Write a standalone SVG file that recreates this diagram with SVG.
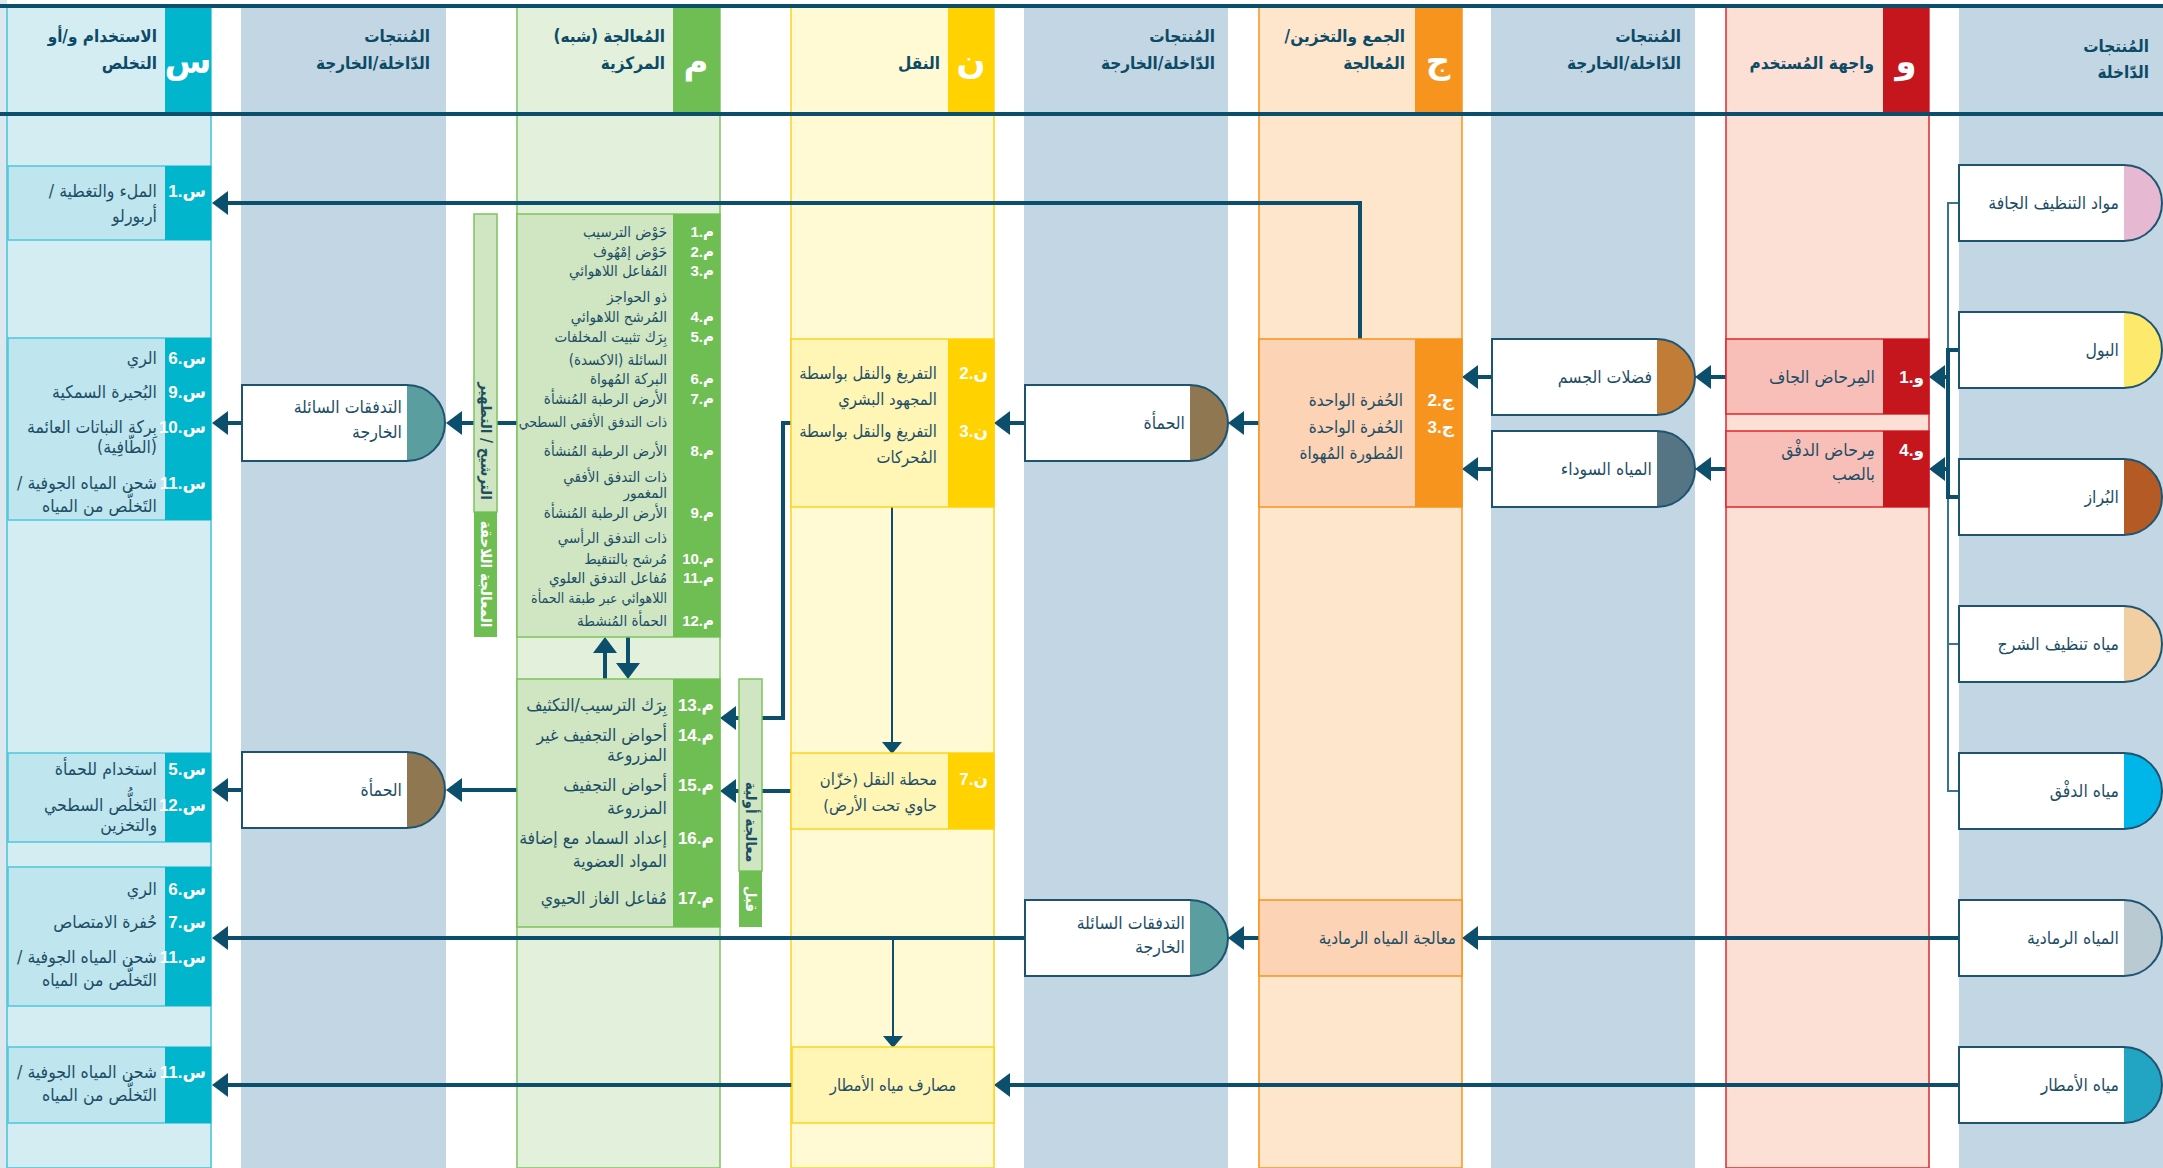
<svg xmlns="http://www.w3.org/2000/svg" xmlns:xlink="http://www.w3.org/1999/xlink" width="2163" height="1168" viewBox="0 0 2163 1168">
<defs>
<style>
.t{font-family:"DejaVu Sans Condensed","DejaVu Sans",sans-serif;font-size:17.5px;fill:#1d4e66;direction:rtl;text-anchor:start}
.ts{font-size:15px}
.tx{font-size:14px}
.tm{font-size:17.5px}
.tn{font-size:16.5px}
.tj{font-size:17px}
.lb{font-family:"Liberation Sans","DejaVu Sans",sans-serif;font-weight:bold;font-size:17px;fill:#ffffff;direction:rtl;text-anchor:start}
.lbs{font-size:15px}
.h{font-family:"DejaVu Sans Condensed","DejaVu Sans",sans-serif;font-weight:bold;font-size:17px;fill:#0d4a66;direction:rtl;text-anchor:start}
.hl{font-family:"DejaVu Sans","Liberation Sans",sans-serif;font-weight:bold;font-size:34px;fill:#ffffff;text-anchor:middle}
.v{font-family:"DejaVu Sans Condensed","DejaVu Sans",sans-serif;font-weight:bold;font-size:15px;text-anchor:middle;dominant-baseline:central}
.pcol{fill:#c2d7e3}
.pbw{fill:#ffffff;stroke:none}
.pbo{fill:none;stroke:#1e5470;stroke-width:2}
.sbox{fill:#bfe5ee;stroke:#4cc6dc;stroke-width:1.5}
.sstrip{fill:#00b5cc}
.mbox{fill:#d0e6c3;stroke:#7cc35e;stroke-width:1.5}
.mstrip{fill:#6fbe53}
.nbox{fill:#fff5b5;stroke:#fcd31f;stroke-width:1.5}
.nstrip{fill:#ffd200}
.jbox{fill:#fcd3b5;stroke:#f7941d;stroke-width:1.5}
.jstrip{fill:#f7941d}
.ubox{fill:#f8bfb8;stroke:#e1262d;stroke-width:1.5}
.ustrip{fill:#c4161c}
.c{fill:none;stroke:#0b4f6c;stroke-width:4}
.cs{fill:none;stroke:#0b4f6c;stroke-width:2}
.cb{fill:none;stroke:#3a7590;stroke-width:2}
</style>
<path id="pb" d="M0,0H165A38,38 0 0 1 165,76H0Z"/>
<marker id="ah" markerUnits="userSpaceOnUse" markerWidth="16" markerHeight="24" refX="12" refY="12" orient="auto">
<path d="M0,0L16,12L0,24Z" fill="#0b4f6c"/>
</marker>
<marker id="ahs" markerUnits="userSpaceOnUse" markerWidth="12" markerHeight="20" refX="9" refY="10" orient="auto">
<path d="M0,0L12,10L0,20Z" fill="#0b4f6c"/>
</marker>
</defs>

<rect x="0" y="0" width="2163" height="1168" fill="#ffffff"/>
<rect x="0" y="0" width="7" height="1168" fill="#dde8ee"/>

<g id="lanes">
<rect x="7" y="7" width="204" height="1161" fill="#d4edf3" stroke="#45c3d9" stroke-width="1.5"/>
<rect class="pcol" x="241" y="7" width="205" height="1161"/>
<rect x="517" y="7" width="203" height="1161" fill="#e3f0db" stroke="#7dc462" stroke-width="1.5"/>
<rect x="791" y="7" width="203" height="1161" fill="#fffad3" stroke="#fcd31f" stroke-width="1.5"/>
<rect class="pcol" x="1024" y="7" width="204" height="1161"/>
<rect x="1259" y="7" width="203" height="1161" fill="#fee6cc" stroke="#f7941d" stroke-width="1.5"/>
<rect class="pcol" x="1491" y="7" width="204" height="1161"/>
<rect x="1726" y="7" width="203" height="1161" fill="#fcdfd5" stroke="#e1262d" stroke-width="1.5"/>
<rect class="pcol" x="1959" y="7" width="204" height="1161"/>
</g>

<g id="header">
<rect class="sstrip" x="165" y="7" width="46" height="106"/>
<rect class="mstrip" x="673" y="7" width="47" height="106"/>
<rect class="nstrip" x="948" y="7" width="46" height="106"/>
<rect class="jstrip" x="1415" y="7" width="47" height="106"/>
<rect class="ustrip" x="1883" y="7" width="46" height="106"/>
<rect x="0" y="4" width="2163" height="4" fill="#0b4f6c"/>
<rect x="0" y="112" width="2163" height="4" fill="#0b4f6c"/>
<text class="h" x="157" y="42">الاستخدام و/أو</text>
<text class="h" x="157" y="69">التخلص</text>
<text class="hl" x="188" y="73">س</text>
<text class="h" x="430" y="42">المُنتجات</text>
<text class="h" x="430" y="69">الدّاخلة/الخارجة</text>
<text class="h" x="665" y="42">المُعالجة (شبه)</text>
<text class="h" x="665" y="69">المركزية</text>
<text class="hl" x="696" y="73">م</text>
<text class="h" x="940" y="69">النقل</text>
<text class="hl" x="971" y="73">ن</text>
<text class="h" x="1215" y="42">المُنتجات</text>
<text class="h" x="1215" y="69">الدّاخلة/الخارجة</text>
<text class="h" x="1405" y="42">الجمع والتخزين/</text>
<text class="h" x="1405" y="69">المُعالجة</text>
<text class="hl" x="1438" y="73">ج</text>
<text class="h" x="1681" y="42">المُنتجات</text>
<text class="h" x="1681" y="69">الدّاخلة/الخارجة</text>
<text class="h" x="1874" y="69">واجهة المُستخدم</text>
<text class="hl" x="1906" y="73">و</text>
<text class="h" x="2149" y="52">المُنتجات</text>
<text class="h" x="2149" y="78">الدّاخلة</text>
</g>

<g id="connectors">
<path class="c" d="M1360,339V203H216" marker-end="url(#ah)"/>
<path class="c" d="M1726,377H1699" marker-end="url(#ah)"/>
<path class="c" d="M1726,469H1699" marker-end="url(#ah)"/>
<path class="c" d="M1492,377H1466" marker-end="url(#ah)"/>
<path class="c" d="M1492,469H1466" marker-end="url(#ah)"/>
<path class="c" d="M1259,423H1232" marker-end="url(#ah)"/>
<path class="c" d="M1025,423H998" marker-end="url(#ah)"/>
<path class="c" d="M791,423H783V718H724" marker-end="url(#ah)"/>
<path class="c" d="M791,791H724" marker-end="url(#ah)"/>
<path class="c" d="M517,423H450" marker-end="url(#ah)"/>
<path class="c" d="M242,423H216" marker-end="url(#ah)"/>
<path class="c" d="M517,790H450" marker-end="url(#ah)"/>
<path class="c" d="M242,790H216" marker-end="url(#ah)"/>
<path class="c" d="M1959,938H1466" marker-end="url(#ah)"/>
<path class="c" d="M1259,938H1232" marker-end="url(#ah)"/>
<path class="c" d="M1025,938H216" marker-end="url(#ah)"/>
<path class="c" d="M1959,1085H998" marker-end="url(#ah)"/>
<path class="c" d="M792,1085H216" marker-end="url(#ah)"/>
<path class="cb" d="M1959,203H1948V791H1959"/>
<path class="cb" d="M1948,644H1959"/>
<path class="c" d="M1959,350H1948V497H1959"/>
<path class="c" d="M1948,377H1933" marker-end="url(#ah)"/>
<path class="c" d="M1948,469H1933" marker-end="url(#ah)"/>
<path class="c" d="M605,679V641" marker-end="url(#ah)"/>
<path class="c" d="M628,637V675" marker-end="url(#ah)"/>
<path class="cs" d="M892,507V751" marker-end="url(#ahs)"/>
<path class="cs" d="M893,938V1045" marker-end="url(#ahs)"/>
</g>

<!-- P4 inputs -->
<g id="p4-dry" transform="translate(1959,165)">
<use href="#pb" class="pbw"/><path d="M165,0A38,38 0 0 1 165,76Z" fill="#e6b8d1"/><use href="#pb" class="pbo"/>
<text class="t" x="160" y="44">مواد التنظيف الجافة</text>
</g>
<g id="p4-urine" transform="translate(1959,312)">
<use href="#pb" class="pbw"/><path d="M165,0A38,38 0 0 1 165,76Z" fill="#fde96c"/><use href="#pb" class="pbo"/>
<text class="t" x="160" y="44">البول</text>
</g>
<g id="p4-feces" transform="translate(1959,459)">
<use href="#pb" class="pbw"/><path d="M165,0A38,38 0 0 1 165,76Z" fill="#b45a25"/><use href="#pb" class="pbo"/>
<text class="t" x="160" y="44">البُراز</text>
</g>
<g id="p4-anal" transform="translate(1959,606)">
<use href="#pb" class="pbw"/><path d="M165,0A38,38 0 0 1 165,76Z" fill="#f1cfa2"/><use href="#pb" class="pbo"/>
<text class="t" x="160" y="44">مياه تنظيف الشرج</text>
</g>
<g id="p4-flush" transform="translate(1959,753)">
<use href="#pb" class="pbw"/><path d="M165,0A38,38 0 0 1 165,76Z" fill="#00b5e8"/><use href="#pb" class="pbo"/>
<text class="t" x="160" y="44">مياه الدفْق</text>
</g>
<g id="p4-grey" transform="translate(1959,900)">
<use href="#pb" class="pbw"/><path d="M165,0A38,38 0 0 1 165,76Z" fill="#b9cad3"/><use href="#pb" class="pbo"/>
<text class="t" x="160" y="44">المياه الرمادية</text>
</g>
<g id="p4-storm" transform="translate(1959,1047)">
<use href="#pb" class="pbw"/><path d="M165,0A38,38 0 0 1 165,76Z" fill="#22a5c3"/><use href="#pb" class="pbo"/>
<text class="t" x="160" y="44">مياه الأمطار</text>
</g>

<!-- U -->
<g id="u1">
<rect class="ubox" x="1726" y="339" width="203" height="75"/>
<rect class="ustrip" x="1883" y="339" width="46" height="75"/>
<text class="t" x="1875" y="383">المِرحاض الجاف</text>
<text class="lb" x="1924" y="383">و.1</text>
</g>
<g id="u4">
<rect class="ubox" x="1726" y="431" width="203" height="76"/>
<rect class="ustrip" x="1883" y="431" width="46" height="76"/>
<text class="t" x="1875" y="456">مِرحاض الدفْق</text>
<text class="t" x="1875" y="480">بالصب</text>
<text class="lb" x="1924" y="456">و.4</text>
</g>

<!-- P3 -->
<g id="p3-bodywaste" transform="translate(1492,339)">
<use href="#pb" class="pbw"/><path d="M165,0A38,38 0 0 1 165,76Z" fill="#c17c37"/><use href="#pb" class="pbo"/>
<text class="t" x="160" y="44">فضلات الجسم</text>
</g>
<g id="p3-black" transform="translate(1492,431)">
<use href="#pb" class="pbw"/><path d="M165,0A38,38 0 0 1 165,76Z" fill="#557585"/><use href="#pb" class="pbo"/>
<text class="t" x="160" y="44">المياه السوداء</text>
</g>

<!-- J -->
<g id="j-pits">
<rect class="jbox" x="1259" y="339" width="203" height="168"/>
<rect class="jstrip" x="1415" y="339" width="47" height="168"/>
<text class="t tj" x="1403" y="406">الحُفرة الواحدة</text>
<text class="t tj" x="1403" y="433">الحُفرة الواحدة</text>
<text class="t tj" x="1403" y="459">المُطورة المُهواة</text>
<text class="lb" x="1454" y="406">ج.2</text>
<text class="lb" x="1454" y="433">ج.3</text>
</g>
<g id="j-grey">
<rect class="jbox" x="1259" y="900" width="203" height="76"/>
<text class="t tj" x="1456" y="944">معالجة المياه الرمادية</text>
</g>

<!-- P2 -->
<g id="p2-sludge" transform="translate(1025,385)">
<use href="#pb" class="pbw"/><path d="M165,0A38,38 0 0 1 165,76Z" fill="#8f7752"/><use href="#pb" class="pbo"/>
<text class="t" x="160" y="44">الحمأة</text>
</g>
<g id="p2-effluent" transform="translate(1025,900)">
<use href="#pb" class="pbw"/><path d="M165,0A38,38 0 0 1 165,76Z" fill="#5a9ea0"/><use href="#pb" class="pbo"/>
<text class="t" x="160" y="29">التدفقات السائلة</text>
<text class="t" x="160" y="53">الخارجة</text>
</g>

<!-- N -->
<g id="n-emptying">
<rect class="nbox" x="791" y="339" width="203" height="168"/>
<rect class="nstrip" x="948" y="339" width="46" height="168"/>
<text class="t tn" x="937" y="379">التفريغ والنقل بواسطة</text>
<text class="t tn" x="937" y="405">المجهود البشري</text>
<text class="t tn" x="937" y="437">التفريغ والنقل بواسطة</text>
<text class="t tn" x="937" y="463">المُحركات</text>
<text class="lb" x="988" y="379">ن.2</text>
<text class="lb" x="988" y="437">ن.3</text>
</g>
<g id="n7">
<rect class="nbox" x="791" y="753" width="203" height="76"/>
<rect class="nstrip" x="948" y="753" width="46" height="76"/>
<text class="t tn" x="937" y="785">محطة النقل (خزّان</text>
<text class="t tn" x="937" y="811">حاوي تحت الأرض)</text>
<text class="lb" x="988" y="785">ن.7</text>
</g>
<g id="n-stormdrain">
<rect class="nbox" x="792" y="1047" width="202" height="76"/>
<text class="t tn" x="893" y="1091" style="text-anchor:middle">مصارف مياه الأمطار</text>
</g>

<!-- M -->
<g id="m-box1">
<rect class="mbox" x="517" y="214" width="203" height="423"/>
<rect class="mstrip" x="673" y="214" width="47" height="423"/>
<text class="t ts" x="667" y="237">حَوْض الترسيب</text>
<text class="t ts" x="667" y="257">حَوْض إمْهُوف</text>
<text class="t ts" x="667" y="276">المُفاعل اللاهوائي</text>
<text class="t ts" x="667" y="302">ذو الحواجز</text>
<text class="t ts" x="667" y="322">المُرشح اللاهوائي</text>
<text class="t ts" x="667" y="342">بِرَك تثبيت المخلفات</text>
<text class="t ts" x="667" y="365">السائلة (الاكسدة)</text>
<text class="t ts" x="667" y="384">البركة المُهواة</text>
<text class="t ts" x="667" y="404">الأرض الرطبة المُنشأة</text>
<text class="t tx" x="667" y="427">ذات التدفق الأفقي السطحي</text>
<text class="t ts" x="667" y="456">الأرض الرطبة المُنشأة</text>
<text class="t ts" x="667" y="482">ذات التدفق الأفقي</text>
<text class="t ts" x="667" y="498">المغمور</text>
<text class="t ts" x="667" y="518">الأرض الرطبة المُنشأة</text>
<text class="t ts" x="667" y="543">ذات التدفق الرأسي</text>
<text class="t ts" x="667" y="564">مُرشح بالتنقيط</text>
<text class="t ts" x="667" y="583">مُفاعل التدفق العلوي</text>
<text class="t tx" x="667" y="603">اللاهوائي عبر طبقة الحمأة</text>
<text class="t ts" x="667" y="626">الحمأة المُنشطة</text>
<text class="lb lbs" x="714" y="237">م.1</text>
<text class="lb lbs" x="714" y="257">م.2</text>
<text class="lb lbs" x="714" y="276">م.3</text>
<text class="lb lbs" x="714" y="322">م.4</text>
<text class="lb lbs" x="714" y="342">م.5</text>
<text class="lb lbs" x="714" y="384">م.6</text>
<text class="lb lbs" x="714" y="404">م.7</text>
<text class="lb lbs" x="714" y="456">م.8</text>
<text class="lb lbs" x="714" y="518">م.9</text>
<text class="lb lbs" x="714" y="564">م.10</text>
<text class="lb lbs" x="714" y="583">م.11</text>
<text class="lb lbs" x="714" y="626">م.12</text>
</g>
<g id="m-box2">
<rect class="mbox" x="517" y="679" width="203" height="248"/>
<rect class="mstrip" x="673" y="679" width="47" height="248"/>
<text class="t tm" x="667" y="711">بِرَك الترسيب/التكثيف</text>
<text class="t tm" x="667" y="741">أحواض التجفيف غير</text>
<text class="t tm" x="667" y="761">المزروعة</text>
<text class="t tm" x="667" y="791">أحواض التجفيف</text>
<text class="t tm" x="667" y="814">المزروعة</text>
<text class="t tm" x="667" y="844">إعداد السماد مع إضافة</text>
<text class="t tm" x="667" y="867">المواد العضوية</text>
<text class="t tm" x="667" y="904">مُفاعل الغاز الحيوي</text>
<text class="lb" x="714" y="711">م.13</text>
<text class="lb" x="714" y="741">م.14</text>
<text class="lb" x="714" y="791">م.15</text>
<text class="lb" x="714" y="844">م.16</text>
<text class="lb" x="714" y="904">م.17</text>
</g>
<g id="post-treatment">
<rect x="474" y="214" width="23" height="298" fill="#d0e6c3" stroke="#7cc35e" stroke-width="1.5"/>
<rect x="474" y="512" width="23" height="125" fill="#6fbe53"/>
<text class="v" transform="translate(486,441) rotate(90)" fill="#1e4f5e">الترشيح / التطهير</text>
<text class="v" transform="translate(486,574) rotate(90)" fill="#ffffff">المعالجة اللاحقة</text>
</g>
<g id="pre-treatment">
<rect x="739" y="679" width="23" height="192" fill="#d0e6c3" stroke="#7cc35e" stroke-width="1.5"/>
<rect x="739" y="871" width="23" height="56" fill="#6fbe53"/>
<text class="v" transform="translate(751,822) rotate(90)" fill="#1e4f5e">معالجة أولية</text>
<text class="v" transform="translate(751,899) rotate(90)" fill="#ffffff">قبل</text>
</g>

<!-- P1 -->
<g id="p1-effluent" transform="translate(242,385)">
<use href="#pb" class="pbw"/><path d="M165,0A38,38 0 0 1 165,76Z" fill="#5a9ea0"/><use href="#pb" class="pbo"/>
<text class="t" x="160" y="28">التدفقات السائلة</text>
<text class="t" x="160" y="53">الخارجة</text>
</g>
<g id="p1-sludge" transform="translate(242,752)">
<use href="#pb" class="pbw"/><path d="M165,0A38,38 0 0 1 165,76Z" fill="#8f7752"/><use href="#pb" class="pbo"/>
<text class="t" x="160" y="44">الحمأة</text>
</g>

<!-- S -->
<g id="s1">
<rect class="sbox" x="8" y="166" width="203" height="74"/>
<rect class="sstrip" x="165" y="166" width="46" height="74"/>
<text class="t" x="157" y="197">الملء والتغطية /</text>
<text class="t" x="157" y="222">أربورلو</text>
<text class="lb" x="206" y="197">س.1</text>
</g>
<g id="s2">
<rect class="sbox" x="8" y="338" width="203" height="182"/>
<rect class="sstrip" x="165" y="338" width="46" height="182"/>
<text class="t" x="157" y="364">الري</text>
<text class="t" x="157" y="398">البُحيرة السمكية</text>
<text class="t" x="157" y="433">بِركة النباتات العائمة</text>
<text class="t" x="157" y="453">(الطّافِية)</text>
<text class="t" x="157" y="489">شحن المياه الجوفية /</text>
<text class="t" x="157" y="512">التَخلُّص من المياه</text>
<text class="lb" x="206" y="364">س.6</text>
<text class="lb" x="206" y="398">س.9</text>
<text class="lb" x="206" y="433">س.10</text>
<text class="lb" x="206" y="489">س.11</text>
</g>
<g id="s3">
<rect class="sbox" x="8" y="753" width="203" height="89"/>
<rect class="sstrip" x="165" y="753" width="46" height="89"/>
<text class="t" x="157" y="775">استخدام للحمأة</text>
<text class="t" x="157" y="811">التَخلُّص السطحي</text>
<text class="t" x="157" y="831">والتخزين</text>
<text class="lb" x="206" y="775">س.5</text>
<text class="lb" x="206" y="811">س.12</text>
</g>
<g id="s4">
<rect class="sbox" x="8" y="867" width="203" height="139"/>
<rect class="sstrip" x="165" y="867" width="46" height="139"/>
<text class="t" x="157" y="895">الري</text>
<text class="t" x="157" y="928">حُفرة الامتصاص</text>
<text class="t" x="157" y="963">شحن المياه الجوفية /</text>
<text class="t" x="157" y="986">التَخلُّص من المياه</text>
<text class="lb" x="206" y="895">س.6</text>
<text class="lb" x="206" y="928">س.7</text>
<text class="lb" x="206" y="963">س.11</text>
</g>
<g id="s5">
<rect class="sbox" x="8" y="1047" width="203" height="76"/>
<rect class="sstrip" x="165" y="1047" width="46" height="76"/>
<text class="t" x="157" y="1078">شحن المياه الجوفية /</text>
<text class="t" x="157" y="1101">التَخلُّص من المياه</text>
<text class="lb" x="206" y="1078">س.11</text>
</g>
</svg>
